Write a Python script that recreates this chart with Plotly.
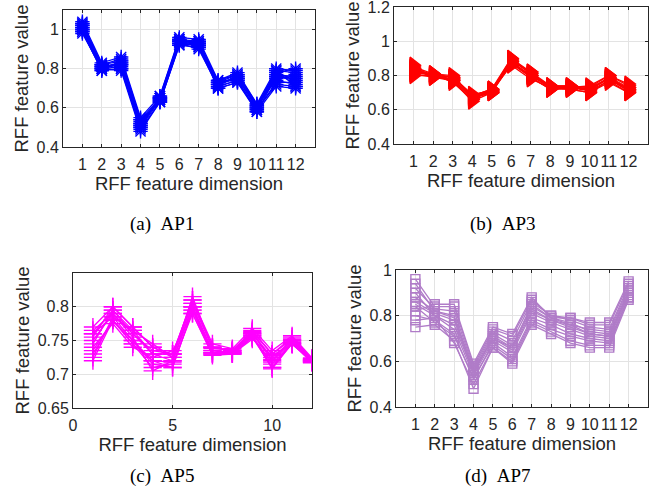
import plotly.graph_objects as go

# Feature dimensions 1..12 shared by every panel
dims = list(range(1, 13))

# AP1 samples
ap1 = [
    [1.00, 0.80, 0.83, 0.50, 0.64, 0.94, 0.92, 0.72, 0.75, 0.60, 0.76, 0.74],
    [1.03, 0.82, 0.85, 0.54, 0.65, 0.95, 0.94, 0.73, 0.77, 0.61, 0.79, 0.78],
    [0.99, 0.79, 0.80, 0.49, 0.63, 0.92, 0.91, 0.70, 0.73, 0.59, 0.72, 0.71],
    [1.02, 0.81, 0.82, 0.52, 0.65, 0.94, 0.93, 0.72, 0.76, 0.60, 0.75, 0.77],
    [1.04, 0.83, 0.86, 0.55, 0.66, 0.96, 0.95, 0.74, 0.78, 0.62, 0.80, 0.79],
    [0.98, 0.80, 0.79, 0.48, 0.63, 0.93, 0.90, 0.71, 0.74, 0.58, 0.71, 0.70],
    [1.01, 0.82, 0.84, 0.53, 0.64, 0.95, 0.93, 0.73, 0.75, 0.61, 0.77, 0.76],
    [1.00, 0.80, 0.81, 0.51, 0.65, 0.93, 0.92, 0.71, 0.74, 0.59, 0.73, 0.73],
    [1.02, 0.81, 0.83, 0.52, 0.64, 0.94, 0.94, 0.72, 0.76, 0.60, 0.78, 0.80],
    [1.03, 0.82, 0.80, 0.50, 0.66, 0.95, 0.92, 0.74, 0.77, 0.62, 0.74, 0.72],
    [0.99, 0.79, 0.84, 0.54, 0.63, 0.92, 0.93, 0.70, 0.73, 0.58, 0.76, 0.75],
    [1.01, 0.81, 0.82, 0.51, 0.65, 0.94, 0.91, 0.73, 0.75, 0.61, 0.79, 0.71],
]

# AP3 samples
ap3 = [
    [0.83, 0.80, 0.78, 0.67, 0.71, 0.88, 0.80, 0.73, 0.73, 0.72, 0.78, 0.72],
    [0.85, 0.81, 0.79, 0.68, 0.72, 0.90, 0.82, 0.74, 0.74, 0.73, 0.80, 0.74],
    [0.81, 0.79, 0.77, 0.65, 0.70, 0.87, 0.79, 0.72, 0.72, 0.70, 0.77, 0.70],
    [0.84, 0.80, 0.79, 0.69, 0.71, 0.89, 0.81, 0.73, 0.73, 0.71, 0.79, 0.73],
    [0.82, 0.81, 0.76, 0.66, 0.72, 0.88, 0.80, 0.74, 0.74, 0.72, 0.78, 0.71],
    [0.86, 0.79, 0.78, 0.67, 0.70, 0.89, 0.82, 0.72, 0.73, 0.74, 0.80, 0.75],
    [0.80, 0.80, 0.77, 0.66, 0.71, 0.86, 0.78, 0.73, 0.72, 0.70, 0.76, 0.70],
    [0.83, 0.81, 0.80, 0.68, 0.71, 0.90, 0.81, 0.74, 0.73, 0.72, 0.79, 0.72],
    [0.84, 0.79, 0.78, 0.67, 0.70, 0.88, 0.79, 0.72, 0.74, 0.71, 0.77, 0.73],
    [0.82, 0.80, 0.77, 0.68, 0.72, 0.87, 0.80, 0.73, 0.72, 0.73, 0.78, 0.71],
]

# AP5 samples
ap5 = [
    [0.750, 0.790, 0.760, 0.730, 0.720, 0.800, 0.735, 0.733, 0.760, 0.720, 0.750, 0.720],
    [0.770, 0.800, 0.770, 0.740, 0.730, 0.810, 0.740, 0.735, 0.765, 0.730, 0.755, 0.722],
    [0.720, 0.780, 0.745, 0.710, 0.715, 0.790, 0.730, 0.730, 0.755, 0.710, 0.745, 0.718],
    [0.760, 0.785, 0.765, 0.745, 0.725, 0.805, 0.740, 0.735, 0.760, 0.725, 0.750, 0.720],
    [0.730, 0.780, 0.750, 0.720, 0.710, 0.795, 0.730, 0.730, 0.755, 0.715, 0.745, 0.720],
    [0.745, 0.795, 0.760, 0.735, 0.730, 0.810, 0.745, 0.738, 0.768, 0.735, 0.757, 0.724],
    [0.765, 0.790, 0.755, 0.705, 0.720, 0.800, 0.732, 0.732, 0.758, 0.710, 0.748, 0.718],
    [0.740, 0.775, 0.740, 0.725, 0.735, 0.790, 0.728, 0.730, 0.752, 0.728, 0.744, 0.721],
    [0.755, 0.800, 0.770, 0.740, 0.725, 0.815, 0.738, 0.736, 0.762, 0.722, 0.752, 0.723],
    [0.725, 0.785, 0.750, 0.715, 0.710, 0.795, 0.735, 0.731, 0.757, 0.708, 0.746, 0.717],
    [0.760, 0.795, 0.765, 0.730, 0.730, 0.805, 0.740, 0.734, 0.763, 0.730, 0.752, 0.722],
    [0.735, 0.780, 0.745, 0.720, 0.718, 0.800, 0.732, 0.732, 0.754, 0.718, 0.747, 0.719],
]

# AP7 samples
ap7 = [
    [0.85, 0.80, 0.76, 0.55, 0.70, 0.65, 0.82, 0.78, 0.75, 0.72, 0.71, 0.90],
    [0.96, 0.84, 0.84, 0.58, 0.74, 0.71, 0.87, 0.80, 0.79, 0.76, 0.76, 0.94],
    [0.75, 0.76, 0.69, 0.48, 0.66, 0.60, 0.77, 0.73, 0.69, 0.67, 0.67, 0.88],
    [0.88, 0.82, 0.80, 0.56, 0.72, 0.67, 0.84, 0.79, 0.77, 0.73, 0.72, 0.91],
    [0.80, 0.78, 0.72, 0.52, 0.68, 0.62, 0.79, 0.76, 0.72, 0.70, 0.69, 0.88],
    [0.92, 0.83, 0.82, 0.57, 0.73, 0.69, 0.86, 0.80, 0.78, 0.75, 0.74, 0.93],
    [0.78, 0.79, 0.68, 0.50, 0.66, 0.59, 0.76, 0.72, 0.68, 0.66, 0.66, 0.87],
    [0.86, 0.81, 0.78, 0.55, 0.71, 0.66, 0.83, 0.78, 0.76, 0.72, 0.71, 0.90],
    [0.90, 0.80, 0.74, 0.54, 0.69, 0.64, 0.81, 0.77, 0.74, 0.71, 0.70, 0.89],
    [0.82, 0.85, 0.85, 0.59, 0.75, 0.72, 0.88, 0.79, 0.79, 0.77, 0.77, 0.95],
    [0.84, 0.77, 0.71, 0.53, 0.67, 0.61, 0.78, 0.74, 0.71, 0.69, 0.68, 0.88],
    [0.94, 0.82, 0.79, 0.56, 0.70, 0.66, 0.85, 0.79, 0.76, 0.74, 0.73, 0.92],
]

GAP = "\u00a0\u00a0"
captions = ["(a)" + GAP + "AP1", "(b)" + GAP + "AP3",
            "(c)" + GAP + "AP5", "(d)" + GAP + "AP7"]

AXIS_COLOR = "#262626"
GRID_COLOR = "#e3e3e3"
SANS = "Liberation Sans, Arial, sans-serif"
TICK_SIZE = 16
TITLE_SIZE = 18.5

fig = go.Figure()

panels = [
    # samples, axis suffix, color, marker symbol, marker size
    (ap1, "", "#0000ff", "asterisk-open", 12),
    (ap3, "2", "#ff0000", "triangle-right", 14),
    (ap5, "3", "#ff00ff", "cross-thin-open", 13),
    (ap7, "4", "#b07cc8", "square-open", 9),
]

for samples, sfx, color, symbol, msize in panels:
    for row in samples:
        fig.add_trace(go.Scatter(
            x=dims, y=row, mode="lines+markers",
            xaxis="x" + sfx, yaxis="y" + sfx,
            line=dict(color=color, width=1.3),
            marker=dict(symbol=symbol, size=msize, color=color,
                        line=dict(color=color, width=1.4)),
            showlegend=False, hoverinfo="skip",
        ))


def xax(domain, anchor, rng, tickvals):
    return dict(
        domain=domain, anchor=anchor, range=rng, tickvals=tickvals,
        tickangle=0, automargin=False, ticklabelstandoff=3,
        ticklabeloverflow="allow",
        showgrid=True, gridcolor=GRID_COLOR, gridwidth=1,
        showline=True, linecolor=AXIS_COLOR, linewidth=1, mirror="ticks",
        ticks="inside", ticklen=3, tickcolor=AXIS_COLOR, zeroline=False,
        tickfont=dict(family=SANS, size=TICK_SIZE, color=AXIS_COLOR),
        title=dict(text="RFF feature dimension", standoff=4,
                   font=dict(family=SANS, size=TITLE_SIZE, color=AXIS_COLOR)),
    )


def yax(domain, anchor, rng, tickvals, ticktext):
    return dict(
        domain=domain, anchor=anchor, range=rng, tickvals=tickvals,
        ticktext=ticktext, automargin=False, ticklabeloverflow="allow",
        showgrid=True, gridcolor=GRID_COLOR, gridwidth=1,
        showline=True, linecolor=AXIS_COLOR, linewidth=1, mirror="ticks",
        ticks="inside", ticklen=3, tickcolor=AXIS_COLOR, zeroline=False,
        tickfont=dict(family=SANS, size=TICK_SIZE, color=AXIS_COLOR),
        title=dict(text="RFF feature value", standoff=3,
                   font=dict(family=SANS, size=TITLE_SIZE, color=AXIS_COLOR)),
    )


W, H = 667, 500


def dom_x(left, right):
    return [left / W, right / W]


def dom_y(top, bottom):
    return [1 - bottom / H, 1 - top / H]


fig.update_layout(
    width=W, height=H,
    margin=dict(l=0, r=0, t=0, b=0),
    paper_bgcolor="white", plot_bgcolor="white",
    xaxis=xax(dom_x(63, 315), "y", [0, 13], dims),
    yaxis=yax(dom_y(10, 147), "x", [0.4, 1.1], [0.4, 0.6, 0.8, 1.0],
              ["0.4", "0.6", "0.8", "1"]),
    xaxis2=xax(dom_x(394, 648), "y2", [0, 13], dims),
    yaxis2=yax(dom_y(7, 144), "x2", [0.4, 1.2001], [0.4, 0.6, 0.8, 1.0, 1.2],
               ["0.4", "0.6", "0.8", "1", "1.2"]),
    xaxis3=xax(dom_x(73, 312), "y3", [0, 12], [0, 5, 10]),
    yaxis3=yax(dom_y(273, 408), "x3", [0.65, 0.85], [0.65, 0.7, 0.75, 0.8],
               ["0.65", "0.7", "0.75", "0.8"]),
    xaxis4=xax(dom_x(396, 648), "y4", [0, 13], dims),
    yaxis4=yax(dom_y(270, 407), "x4", [0.4, 1.0], [0.4, 0.6, 0.8, 1.0],
               ["0.4", "0.6", "0.8", "1"]),
)

cap_pos = [(162, 224), (502, 224), (162, 476), (497, 476)]
for text, (cx, cy) in zip(captions, cap_pos):
    fig.add_annotation(
        text=text, x=cx / W, y=1 - cy / H, xref="paper", yref="paper",
        showarrow=False, xanchor="center", yanchor="middle",
        font=dict(family="Liberation Serif, Times New Roman, serif",
                  size=19, color="black"),
    )

fig.write_html("out.html")
